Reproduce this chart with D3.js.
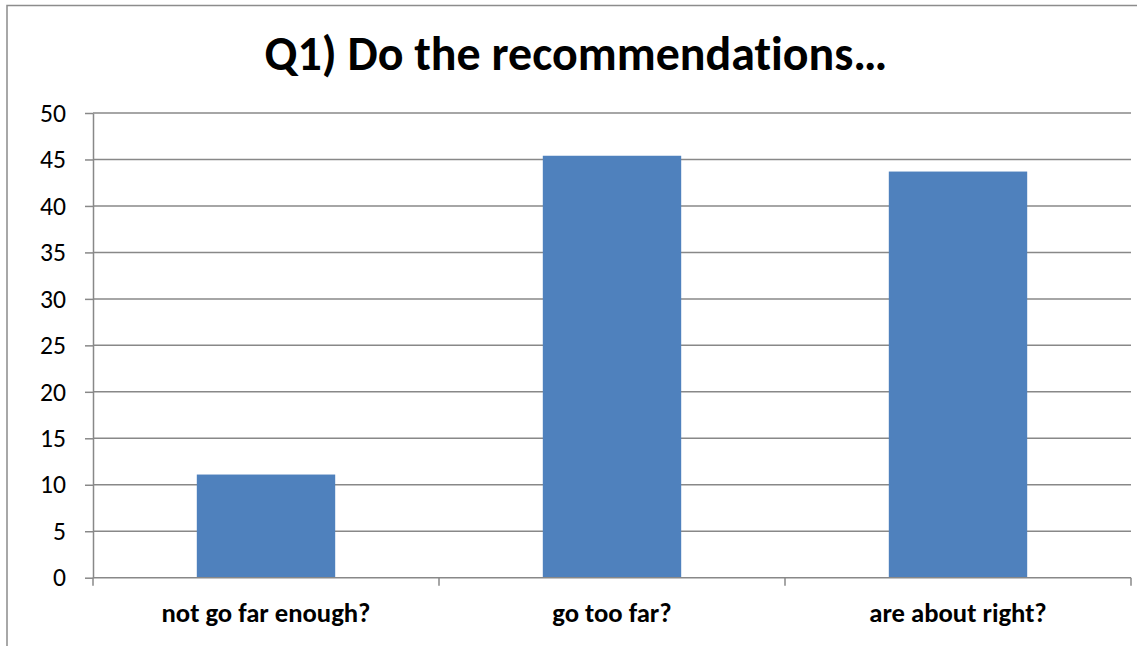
<!DOCTYPE html>
<html><head><meta charset="utf-8">
<script src="https://cdn.jsdelivr.net/npm/d3@7"></script>
<style>html,body{margin:0;padding:0;background:#fff;overflow:hidden}text{font-variant-ligatures:none}</style>
</head><body>
<script>
const categories = ["not go far enough?", "go too far?", "are about right?"];
const values = [11.1, 45.4, 43.7];
const yTicks = [0, 5, 10, 15, 20, 25, 30, 35, 40, 45, 50];
const title = "Q1) Do the recommendations…";

const W = 1137, H = 646;
const svg = d3.select("body").append("svg").attr("width", W).attr("height", H);

// outer frame (top and left visible)
svg.append("path").attr("d", `M7,646 L7,5.5 L1137,5.5`).attr("fill", "none")
  .attr("stroke", "#8c8c8c").attr("stroke-width", 1.5);

const x0 = 93, x1 = 1131, yTop = 113, yBot = 577.7;
const x = d3.scaleBand().domain(categories).range([x0, x1]).paddingInner(0.6).paddingOuter(0.3);
const y = d3.scaleLinear().domain([0, 50]).range([yBot, yTop]);

const font = "Calibri, Carlito, Lato, 'Open Sans', sans-serif";

// gridlines
svg.append("g").selectAll("line").data(yTicks.filter(d => d > 0)).join("line")
  .attr("x1", x0).attr("x2", x1).attr("y1", d => y(d)).attr("y2", d => y(d))
  .attr("stroke", "#888").attr("stroke-width", 1.5);

// y axis
const yAxis = d3.axisLeft(y).tickValues(yTicks).tickSize(8).tickPadding(19).tickSizeOuter(0);
const gy = svg.append("g").attr("transform", `translate(${x0},0)`).call(yAxis);
gy.select(".domain").attr("stroke", "#888").attr("stroke-width", 1.5);
gy.selectAll(".tick line").attr("stroke", "#888").attr("stroke-width", 1.5);
const yt = gy.selectAll(".tick text").attr("font-family", font).attr("font-size", 18).attr("fill", "#000");
// fit size so "50" is ~26px wide
const w50 = yt.filter(d => d === 50).node().getComputedTextLength();
yt.attr("font-size", 18 * 26 / w50);

// bars
svg.append("g").selectAll("rect").data(values).join("rect")
  .attr("x", (d, i) => x(categories[i])).attr("width", x.bandwidth())
  .attr("y", d => y(d)).attr("height", d => yBot - y(d))
  .attr("fill", "#4F81BD");

// x axis
const gx = svg.append("g").attr("transform", `translate(0,${yBot})`);
gx.append("line").attr("x1", x0).attr("x2", x1).attr("stroke", "#888").attr("stroke-width", 1.5);
const bounds = [x0].concat(categories.map(c => x(c) - x.step()*x.paddingInner()/2 + x.step()));
bounds[bounds.length-1] = x1;
gx.selectAll(".tk").data(bounds).join("line").attr("class", "tk")
  .attr("x1", d => d).attr("x2", d => d).attr("y1", 0).attr("y2", 8)
  .attr("stroke", "#888").attr("stroke-width", 1.5);
const xt = gx.selectAll("text").data(categories).join("text")
  .attr("x", d => x(d) + x.bandwidth()/2).attr("y", 44)
  .attr("text-anchor", "middle").attr("font-family", font).attr("font-weight", "bold")
  .attr("font-size", 17.5).attr("fill", "#000").text(d => d);
const w0 = xt.filter((d, i) => i === 0).node().getComputedTextLength();
xt.attr("font-size", 17.5 * 209 / w0);

// title
const t = svg.append("text").attr("x", 576).attr("y", 70).attr("text-anchor", "middle")
  .attr("font-family", font).attr("font-weight", "bold").attr("font-size", 38).attr("fill", "#000")
  .text(title);
const tw = t.node().getComputedTextLength();
t.attr("font-size", 38 * 623 / tw);
</script>
</body></html>
